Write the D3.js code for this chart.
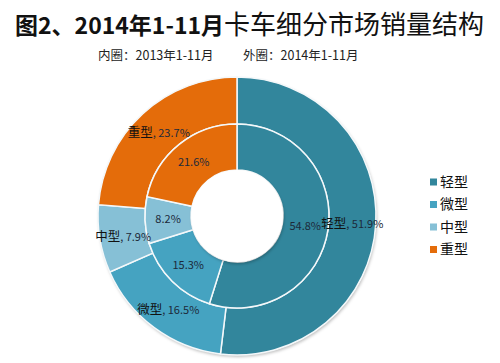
<!DOCTYPE html>
<html>
<head>
<meta charset="utf-8">
<script src="https://cdn.jsdelivr.net/npm/d3@7"></script>
<style>
  body { margin: 0; background: #fff; }
  svg { display: block; font-family: "Noto Sans CJK SC", "Noto Sans", sans-serif; }
</style>
</head>
<body>
<script>
// data
const categories = ["轻型", "微型", "中型", "重型"];
const inner2013 = [54.8, 15.3, 8.2, 21.6];
const outer2014 = [51.9, 16.5, 7.9, 23.7];
const colors = ["#32869c", "#45a3c1", "#86c0d6", "#e46c0a"];

// layout
const w = 500, h = 363;
const cx = 237, cy = 216;
const rHole = 46, rMid = 92, rOuter = 139;

const svg = d3.select("body").append("svg").attr("width", w).attr("height", h);

const defs = svg.append("defs");
const shadow = defs.append("filter").attr("id", "shadow")
  .attr("x", "-20%").attr("y", "-20%").attr("width", "140%").attr("height", "140%");
shadow.append("feDropShadow").attr("dx", 1).attr("dy", 2).attr("stdDeviation", 1.5)
  .attr("flood-color", "#000").attr("flood-opacity", 0.25);

// title
const title = svg.append("text").attr("x", 15).attr("y", 34).attr("fill", "#111");
title.append("tspan").attr("font-weight", "bold").attr("font-size", 23).text("图2、2014年1-11月");
title.append("tspan").attr("font-size", 26).text("卡车细分市场销量结构");

svg.append("text").attr("x", 98).attr("y", 60).attr("font-size", 12.5).attr("fill", "#222")
  .text("内圈：2013年1-11月");
svg.append("text").attr("x", 243).attr("y", 60).attr("font-size", 12.5).attr("fill", "#222")
  .text("外圈：2014年1-11月");

const pie = d3.pie().sort(null).value(d => d.v);
const g = svg.append("g").attr("transform", `translate(${cx},${cy})`);

// shadow base
g.append("circle").attr("r", rOuter).attr("fill", "#fff").attr("filter", "url(#shadow)");

const outerArc = d3.arc().innerRadius(rMid).outerRadius(rOuter);
const innerArc = d3.arc().innerRadius(rHole).outerRadius(rMid);

const outerData = pie(categories.map((c, i) => ({ c, v: outer2014[i], i })));
const innerData = pie(categories.map((c, i) => ({ c, v: inner2013[i], i })));

g.selectAll("path.outer").data(outerData).join("path")
  .attr("class", "outer")
  .attr("d", outerArc)
  .attr("fill", d => colors[d.data.i])
  .attr("stroke", "#f4f8fa").attr("stroke-width", 1.5);

g.selectAll("path.inner").data(innerData).join("path")
  .attr("class", "inner")
  .attr("d", innerArc)
  .attr("fill", d => colors[d.data.i])
  .attr("stroke", "#f4f8fa").attr("stroke-width", 1.5);

// hole with shadow look
g.append("circle").attr("r", rHole).attr("fill", "#fff").attr("filter", "url(#shadow)");

// labels
g.selectAll("text.inner").data(innerData).join("text")
  .attr("class", "inner")
  .attr("transform", d => `translate(${innerArc.centroid(d)})`)
  .attr("text-anchor", "middle").attr("dy", "0.35em")
  .attr("font-size", 11).attr("fill", "#1d2a3a")
  .text(d => d.data.v.toFixed(1) + "%");

const ol = g.selectAll("text.outer").data(outerData).join("text")
  .attr("class", "outer")
  .attr("transform", d => `translate(${outerArc.centroid(d)})`)
  .attr("text-anchor", "middle").attr("dy", "0.35em")
  .attr("fill", "#1d2a3a");
ol.append("tspan").attr("font-size", 12.5).attr("fill", "#111").text(d => d.data.c);
ol.append("tspan").attr("font-size", 11).text(d => ", " + d.data.v.toFixed(1) + "%");

// legend
const legend = svg.append("g").attr("transform", "translate(430,182)");
const item = legend.selectAll("g").data(categories).join("g")
  .attr("transform", (d, i) => `translate(0,${i * 22.5})`);
item.append("rect").attr("x", 0).attr("y", -3.5).attr("width", 7).attr("height", 7)
  .attr("fill", (d, i) => colors[i]);
item.append("text").attr("x", 10).attr("dy", "0.35em").attr("font-size", 14)
  .attr("fill", "#111").text(d => d);
</script>
</body>
</html>
